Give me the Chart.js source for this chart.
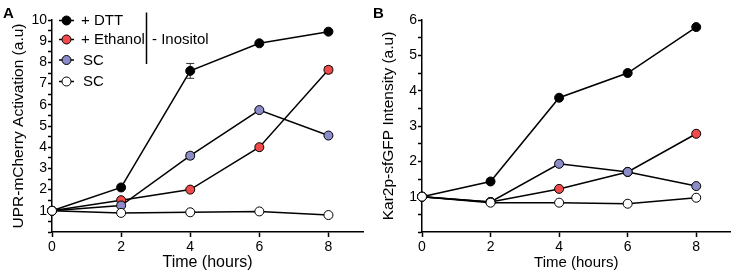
<!DOCTYPE html>
<html>
<head>
<meta charset="utf-8">
<script src="https://cdn.jsdelivr.net/npm/chart.js@4"></script>
<style>
  body { margin: 0; background: #fff; }
  .wrap { display: flex; width: 736px; height: 276px; }
  #boxA { position: relative; width: 370px; height: 276px; }
  #boxB { position: relative; width: 366px; height: 276px; }
</style>
</head>
<body>
<div class="wrap">
  <div id="boxA"><canvas id="chartA"></canvas></div>
  <div id="boxB"><canvas id="chartB"></canvas></div>
</div>
<script>
// time points and tick labels
const hours = [0, 2, 4, 6, 8];
const xTicks = [0, 2, 4, 6, 8];

// panel A: UPR-mCherry activation
const dttA = [1, 2.1, 7.6, 8.9, 9.45];
const ethanolA = [1, 1.5, 2.0, 4.0, 7.65];
const scInoA = [1, 1.25, 3.6, 5.75, 4.55];
const scA = [1, 0.9, 0.93, 0.97, 0.8];
const dttErrA = [0, 0.05, 0.35, 0.05, 0.05];
const ethanolErrA = [0, 0.05, 0.05, 0.05, 0.15];
const scInoErrA = [0, 0.05, 0.15, 0.05, 0.05];
const scErrA = [0, 0, 0, 0, 0];

// panel B: Kar2p-sfGFP intensity
const dttB = [1, 1.43, 3.8, 4.5, 5.8];
const ethanolB = [1, 0.85, 1.22, 1.7, 2.78];
const scInoB = [1, 0.85, 1.93, 1.7, 1.3];
const scB = [1, 0.83, 0.83, 0.8, 0.97];

const legendLabels = ['+ DTT', '+ Ethanol', 'SC', 'SC'];
const fillColors = ['#000000', '#f04a4a', '#8c8cc8', '#ffffff'];

const font = 'Liberation Sans, Arial, sans-serif';

function makeSeries(values, i, errs) {
    return {
        label: legendLabels[i],
        data: hours.map((h, k) => ({ x: h, y: values[k] })),
        errors: errs,
        borderColor: '#000',
        borderWidth: 1.5,
        pointBackgroundColor: fillColors[i],
        pointBorderColor: '#000',
        pointBorderWidth: 1,
        pointRadius: 4.5,
        pointHoverRadius: 4.5,
        tension: 0,
        clip: false,
        order: 4 - i, // DTT at the back, plain SC on top
    };
}

// error bars drawn under the markers
const errorBars = {
    id: 'errorBars',
    beforeDatasetsDraw(chart) {
        const ctx = chart.ctx;
        const yScale = chart.scales.y;
        ctx.save();
        ctx.strokeStyle = '#333';
        ctx.lineWidth = 1;
        chart.data.datasets.forEach((ds, i) => {
            if (!ds.errors) return;
            const meta = chart.getDatasetMeta(i);
            meta.data.forEach((pt, k) => {
                const e = ds.errors[k];
                if (!e) return;
                const v = ds.data[k].y;
                const top = yScale.getPixelForValue(v + e);
                const bot = yScale.getPixelForValue(v - e);
                ctx.beginPath();
                ctx.moveTo(pt.x, top); ctx.lineTo(pt.x, bot);
                ctx.moveTo(pt.x - 4, top); ctx.lineTo(pt.x + 4, top);
                ctx.moveTo(pt.x - 4, bot); ctx.lineTo(pt.x + 4, bot);
                ctx.stroke();
            });
        });
        ctx.restore();
    }
};

// panel letter
const panelLetter = {
    id: 'panelLetter',
    afterDraw(chart, args, opts) {
        const ctx = chart.ctx;
        ctx.save();
        ctx.fillStyle = '#000';
        ctx.font = 'bold 15px ' + font;
        ctx.textBaseline = 'top';
        ctx.fillText(opts.text, opts.x, 6);
        ctx.restore();
    }
};

// legend with the bracket for "- Inositol"
const sideLegend = {
    id: 'sideLegend',
    afterDraw(chart, args, opts) {
        if (!opts.show) return;
        const ctx = chart.ctx;
        const rows = [20.5, 39.5, 60, 81.5];
        ctx.save();
        ctx.font = '15px ' + font;
        ctx.textBaseline = 'middle';
        chart.data.datasets.forEach((ds, i) => {
            const y = rows[i];
            ctx.strokeStyle = '#000';
            ctx.lineWidth = 1.5;
            ctx.beginPath();
            ctx.moveTo(59, y); ctx.lineTo(74, y);
            ctx.stroke();
            ctx.beginPath();
            ctx.arc(66.5, y, 4.5, 0, Math.PI * 2);
            ctx.fillStyle = ds.pointBackgroundColor;
            ctx.fill();
            ctx.lineWidth = 1;
            ctx.stroke();
            ctx.fillStyle = '#000';
            ctx.fillText(ds.label, i < 2 ? 81 : 83, y + 0.5);
        });
        ctx.lineWidth = 1.5;
        ctx.beginPath();
        ctx.moveTo(146.5, 12.5); ctx.lineTo(146.5, 64);
        ctx.stroke();
        ctx.fillText('- Inositol', 152, 40);
        ctx.restore();
    }
};

function makeOptions(yMax, yTitle, letter, padRight, xTitleSize, showLegend) {
    return {
        responsive: true,
        maintainAspectRatio: false,
        animation: false,
        layout: { padding: { left: 0, right: padRight, top: 20, bottom: 0 } },
        plugins: {
            legend: { display: false },
            tooltip: { enabled: false },
            panelLetter: { text: letter, x: 3 },
            sideLegend: { show: showLegend },
        },
        scales: {
            x: {
                type: 'linear',
                min: 0,
                max: 9,
                afterBuildTicks: (scale) => { scale.ticks = xTicks.map(v => ({ value: v })); },
                afterFit: (scale) => { scale.height = 44; },
                border: { color: '#000', width: 1.5 },
                grid: { drawOnChartArea: false, color: '#000', tickLength: 5, tickWidth: 1.5 },
                ticks: { color: '#000', font: { family: font, size: 14 }, padding: 2, maxRotation: 0 },
                title: { display: true, text: 'Time (hours)', color: '#000', font: { family: font, size: xTitleSize }, padding: { top: 0 } },
            },
            y: {
                min: 0,
                max: yMax,
                afterFit: (scale) => { scale.width = 52; },
                border: { color: '#000', width: 1.5 },
                grid: { drawOnChartArea: false, color: '#000', tickLength: 4, tickWidth: 1.5 },
                ticks: {
                    stepSize: 0.5,
                    autoSkip: false,
                    color: '#000',
                    font: { family: font, size: 14 },
                    padding: 1,
                    callback: (v) => (Number.isInteger(v) && v > 0 ? v : ''),
                },
                title: { display: true, text: yTitle, color: '#000', font: { family: font, size: 15.5 }, padding: { top: 9, bottom: 0 } },
            },
        },
    };
}

const chartA = new Chart(document.getElementById('chartA'), {
    type: 'line',
    data: {
        datasets: [
            makeSeries(dttA, 0, dttErrA),
            makeSeries(ethanolA, 1, ethanolErrA),
            makeSeries(scInoA, 2, scInoErrA),
            makeSeries(scA, 3, scErrA),
        ],
    },
    options: makeOptions(10, 'UPR-mCherry Activation (a.u)', 'A', 7, 16, true),
    plugins: [errorBars, panelLetter, sideLegend],
});

const chartB = new Chart(document.getElementById('chartB'), {
    type: 'line',
    data: {
        datasets: [
            makeSeries(dttB, 0, null),
            makeSeries(ethanolB, 1, null),
            makeSeries(scInoB, 2, null),
            makeSeries(scB, 3, null),
        ],
    },
    options: makeOptions(6, 'Kar2p-sfGFP Intensity (a.u)', 'B', 3, 15, false),
    plugins: [errorBars, panelLetter, sideLegend],
});
</script>
</body>
</html>
